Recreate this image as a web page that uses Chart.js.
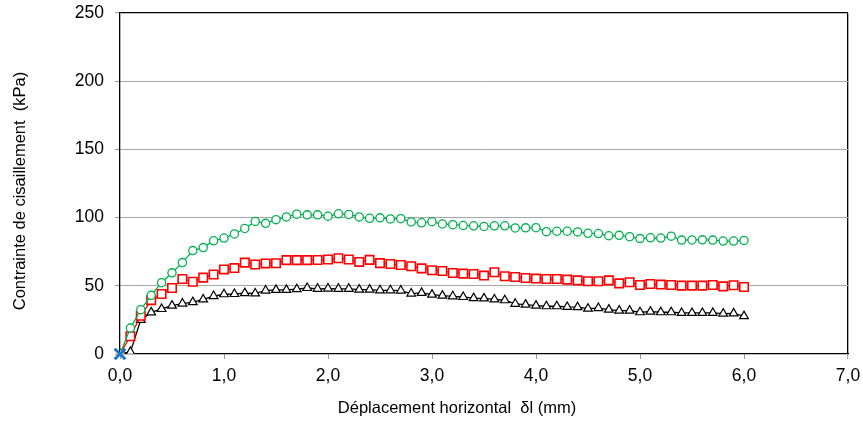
<!DOCTYPE html>
<html><head><meta charset="utf-8">
<script src="https://cdn.jsdelivr.net/npm/chart.js@4"></script>
<style>html,body{margin:0;padding:0;background:#fff;overflow:hidden;}</style>
</head><body>
<canvas id="c" width="863" height="421"></canvas>
<script>
const displacement = [0.0,0.1,0.2,0.3,0.4,0.5,0.6,0.7,0.8,0.9,1.0,1.1,1.2,1.3,1.4,1.5,1.6,1.7,1.8,1.9,2.0,2.1,2.2,2.3,2.4,2.5,2.6,2.7,2.8,2.9,3.0,3.1,3.2,3.3,3.4,3.5,3.6,3.7,3.8,3.9,4.0,4.1,4.2,4.3,4.4,4.5,4.6,4.7,4.8,4.9,5.0,5.1,5.2,5.3,5.4,5.5,5.6,5.7,5.8,5.9,6.0];
const seriesGreen = [0,19,32.5,43,52.3,59.5,67,75.8,78,83,85,88,92,97.2,95.8,98.5,100.5,102.5,102,102,101,102.8,102.3,100.5,99.5,99.8,99,99.2,96.8,96.2,97,95.3,94.8,94.2,94,93.5,94,94,92.4,92.5,92.6,89.7,90,90,89.5,88.5,88.3,86.7,87,86,84.6,85.2,85,86.4,83.5,83.6,83.7,83.5,82.8,82.8,83.3];
const seriesRed = [0,13,28,39.5,44,48.4,55,53,56,58.3,62,63,67,65.6,66.4,66.5,68.8,68.8,68.8,68.9,69.3,70.2,69.3,67.5,69,66.6,66,65.2,64.3,62.8,61.4,60.9,59.4,58.9,58.7,57.5,59.9,57,56.5,55.7,55.3,55,55,54.5,54,53.3,53.3,54,51.8,52.6,50.6,51.3,50.9,50.6,50.1,50.1,50.1,50.6,49.6,50.4,49.1];
const seriesBlack = [0,1.5,25,30.5,33,35.5,37,38,40,42.5,43.8,44,44.6,44.4,46.5,47,47,47.5,48.4,47.8,48,47.8,47.8,47.2,47.2,46.7,46.7,46.5,44.3,44.8,43.5,42.8,42.3,41.8,41,40.8,40,39.4,36.8,36.2,35.5,35,35,34.5,34.3,33.2,33.7,32.5,31.8,31.8,30.6,31.1,30.6,30.6,30.1,30.1,30.1,30.1,29.6,29.8,27.8];
const originX = [0];
const originY = [0];
const xTicks = [0,1,2,3,4,5,6,7];
const yTicks = [0,50,100,150,200,250];
const xTitle = 'Déplacement horizontal  δl (mm)';
const yTitle = 'Contrainte de cisaillement  (kPa)';

const FONT = '"Liberation Sans", Arial, sans-serif';
const pts = (xs, ys) => xs.map((x, i) => ({x: x, y: ys[i]}));

const axisTitles = {
  id: 'axisTitles',
  afterDraw(chart) {
    const ctx = chart.ctx;
    ctx.save();
    ctx.fillStyle = '#000';
    ctx.font = '16.5px ' + FONT;
    ctx.textAlign = 'center';
    ctx.textBaseline = 'middle';
    ctx.fillText(xTitle, 457, 408);
    ctx.translate(20, 191);
    ctx.rotate(-Math.PI / 2);
    ctx.fillText(yTitle, 0, 0);
    ctx.restore();
  }
};

new Chart(document.getElementById('c'), {
  type: 'scatter',
  data: {
    datasets: [
      {data: pts(originX, originY), pointStyle: 'crossRot', pointRadius: 7.5, pointBorderWidth: 3,
       borderColor: '#1F77C8', backgroundColor: '#1F77C8', showLine: false, clip: false},
      {data: pts(displacement, seriesGreen), pointStyle: 'circle', pointRadius: 4.1, pointBorderWidth: 1.3,
       borderColor: '#00B050', pointBorderColor: '#00B050', pointBackgroundColor: '#fff', borderWidth: 1.3, showLine: true},
      {data: pts(displacement, seriesRed), pointStyle: 'rect', pointRadius: 6, pointBorderWidth: 1.6,
       borderColor: '#FF0000', pointBorderColor: '#FF0000', pointBackgroundColor: '#fff', borderWidth: 1.3, showLine: true},
      {data: pts(displacement, seriesBlack), pointStyle: 'triangle', pointRadius: 5, pointBorderWidth: 1.2,
       borderColor: '#000', pointBorderColor: '#000', pointBackgroundColor: '#fff', borderWidth: 1.3, showLine: true}
    ]
  },
  options: {
    responsive: false,
    animation: false,
    devicePixelRatio: 1,
    events: [],
    layout: {padding: {top: 13, right: 15, left: 0, bottom: 0}},
    plugins: {legend: {display: false}, tooltip: {enabled: false}},
    scales: {
      x: {
        type: 'linear', min: 0, max: 7,
        afterBuildTicks: s => { s.ticks = xTicks.map(v => ({value: v})); },
        afterFit: s => { s.height = 67; s.paddingLeft = 0; s.paddingRight = 0; },
        ticks: {
          color: '#000', padding: 7,
          font: {family: FONT, size: 17.5},
          callback: v => v.toFixed(1).replace('.', ',')
        },
        grid: {
          color: c => (c.tick && c.tick.value === 7) ? '#000' : 'rgba(0,0,0,0)',
          lineWidth: c => (c.tick && c.tick.value === 7) ? 1.3 : 1,
          tickColor: '#999', tickWidth: 1, tickLength: 5
        },
        border: {color: '#000', width: 1.3}
      },
      y: {
        type: 'linear', min: 0, max: 250,
        afterBuildTicks: s => { s.ticks = yTicks.map(v => ({value: v})); },
        afterFit: s => { s.width = 120; s.paddingTop = 0; s.paddingBottom = 0; },
        ticks: {
          color: '#000', padding: 11,
          font: {family: FONT, size: 17.5},
          callback: v => String(v)
        },
        grid: {
          color: c => !c.tick ? '#a6a6a6' : (c.tick.value === 250 ? '#000' : (c.tick.value === 0 ? 'rgba(0,0,0,0)' : '#a6a6a6')),
          lineWidth: c => (c.tick && c.tick.value === 250) ? 1.3 : 1,
          tickColor: '#999', tickWidth: 1, tickLength: 5
        },
        border: {color: '#000', width: 1.3}
      }
    }
  },
  plugins: [axisTitles]
});
</script>
</body></html>
